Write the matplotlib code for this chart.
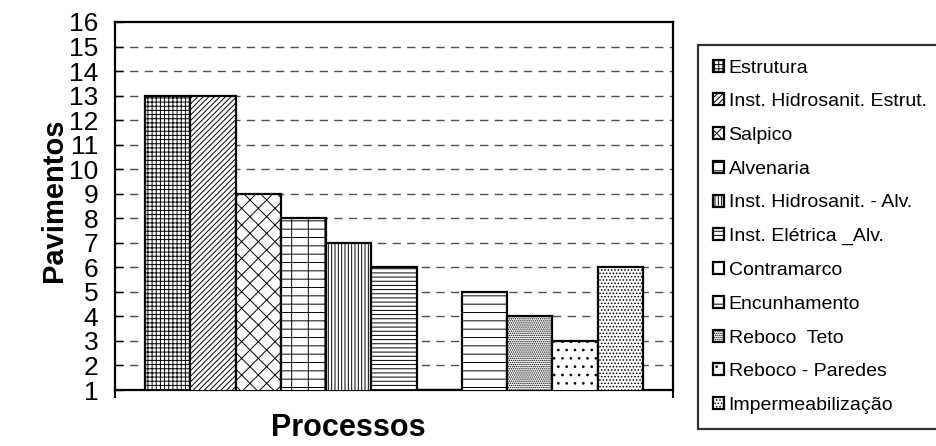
import matplotlib
matplotlib.use("Agg")
import matplotlib.pyplot as plt
import numpy as np

# Floors reached by each construction process
processos = [
    "Estrutura",
    "Inst. Hidrosanit. Estrut.",
    "Salpico",
    "Alvenaria",
    "Inst. Hidrosanit. - Alv.",
    "Inst. Elétrica _Alv.",
    "Contramarco",
    "Encunhamento",
    "Reboco  Teto",
    "Reboco - Paredes",
    "Impermeabilização",
]
pavimentos = [13, 13, 9, 8, 7, 6, 1, 5, 4, 3, 6]
hachuras = ["++++", "//////", "xx", "-+", "|||||", "----", "+", "--", "........", "..", "....."]
y_ticks = list(range(1, 17))

plt.rcParams["font.family"] = ["Liberation Sans", "DejaVu Sans"]
plt.rcParams["hatch.linewidth"] = 0.7
plt.rcParams["hatch.color"] = "black"

W, H = 937, 446
fig = plt.figure(figsize=(W / 100, H / 100), dpi=100)
ax = fig.add_axes([115 / W, 1 - 390 / H, (673 - 115) / W, (390 - 22) / H])

x = np.arange(len(processos))
for xi, val, hat, lab in zip(x, pavimentos, hachuras, processos):
    ax.bar(xi, val, width=1.0, color="white", edgecolor="black",
           linewidth=1.6, hatch=hat, label=lab, zorder=3)

ax.set_ylim(1, 16)
ax.set_xlim(-0.5 - 2 / 3, len(processos) - 0.5 + 2 / 3)
ax.set_yticks(y_ticks)
ax.set_yticklabels([str(t) for t in y_ticks], fontsize=19)
ax.tick_params(axis="y", direction="in", length=6, width=1.0, pad=12)

# only the end ticks on the category axis
xl = ax.get_xlim()
ax.set_xticks(list(xl))
ax.set_xticklabels(["", ""])
ax.tick_params(axis="x", direction="out", length=6, width=1.5)

for s in ax.spines.values():
    s.set_linewidth(1.6)
    s.set_color("black")

for t in y_ticks[1:-1]:
    ax.axhline(t, color="#505050", linewidth=1.0, linestyle=(0, (6, 4.5)), zorder=1)

fig.text(54 / W, 1 - 200 / H, "Pavimentos", rotation=90, fontsize=21,
         fontweight="bold", ha="center", va="center")
fig.text(348 / W, 1 - 428 / H, "Processos", fontsize=22,
         fontweight="bold", ha="center", va="center")

leg = fig.legend(loc="upper left", bbox_to_anchor=(698 / W, 1 - 45 / H),
                 fontsize=14, frameon=True, fancybox=False, borderaxespad=0,
                 handlelength=0.57, handleheight=0.57, handletextpad=0.25,
                 labelspacing=0.86, borderpad=0.75)
leg.get_frame().set_edgecolor("black")
leg.get_frame().set_linewidth(1.6)

fig.savefig("out.png", dpi=100)
